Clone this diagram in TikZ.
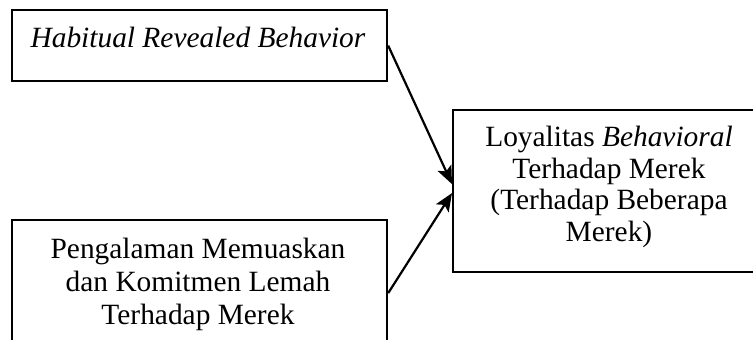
\documentclass[tikz,border=0pt]{standalone}
\usepackage{fontspec}
\setmainfont{Liberation Serif}
\usetikzlibrary{arrows.meta}
\tikzset{
  boxed/.style={draw, line width=2.2pt, inner sep=0pt, anchor=north west},
  txt/.style={align=center, inner sep=0pt, font=\fontsize{29.4}{31.5}\selectfont},
  link/.style={line width=2.2pt, -{Stealth[length=18pt,width=15pt,inset=4pt]}}
}
\begin{document}
\begin{tikzpicture}[x=1pt,y=-1pt]
\useasboundingbox (0,0) rectangle (753,340);
\clip (0,0) rectangle (753,340);
\node[boxed, minimum width=375pt, minimum height=71pt] (b1) at (11,9) {};
\node[boxed, minimum width=375pt, minimum height=146pt] (b2) at (11,219) {};
\node[boxed, minimum width=320pt, minimum height=162pt] (b3) at (452,109) {};
\node[txt, anchor=base] (t1) at (198,47) {\textit{Habitual Revealed Behavior}};
\node[txt, anchor=base, font=\fontsize{29.4}{33}\selectfont] (t2) at (198,324) {Pengalaman Memuaskan\\dan Komitmen Lemah\\Terhadap Merek};
\node[txt, anchor=base] (t3) at (609,241) {Loyalitas \textit{Behavioral}\\Terhadap Merek\\(Terhadap Beberapa\\Merek)};
\draw[link] (b1.east) -- ([yshift=7pt]b3.west);
\draw[link] (b2.east) -- ([yshift=-2pt]b3.west);
\end{tikzpicture}
\end{document}
